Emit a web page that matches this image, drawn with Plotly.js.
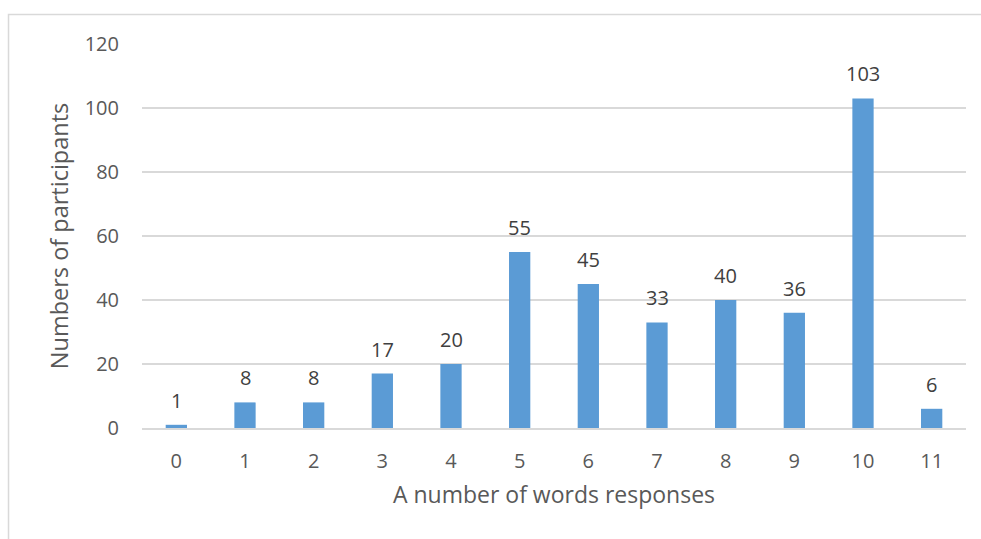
<!DOCTYPE html>
<html>
<head>
<meta charset="utf-8">
<script src="https://cdn.plot.ly/plotly-3.0.1.min.js"></script>
<style>
  html, body { margin: 0; padding: 0; background: #ffffff; }
  #chart { width: 981px; height: 539px; }
</style>
</head>
<body>
<div id="chart"></div>
<script>
// Number of words given in responses, and how many participants gave each count
const wordCounts = ['0', '1', '2', '3', '4', '5', '6', '7', '8', '9', '10', '11'];
const participants = [1, 8, 8, 17, 20, 55, 45, 33, 40, 36, 103, 6];
const yTicks = [0, 20, 40, 60, 80, 100, 120];

const FONT = 'Open Sans, Liberation Sans, sans-serif';
const GRID = '#d9d9d9';

const bars = {
  type: 'bar',
  x: wordCounts,
  y: participants,
  marker: { color: '#5b9bd5', line: { width: 0 } },
  hoverinfo: 'x+y'
};

// value labels sit above each bar
const labels = wordCounts.map((c, i) => ({
  x: c,
  y: participants[i],
  xref: 'x',
  yref: 'y',
  text: String(participants[i]),
  showarrow: false,
  yanchor: 'bottom',
  yshift: 9,
  font: { family: FONT, size: 20, color: '#404040' }
}));

const layout = {
  width: 981,
  height: 539,
  margin: { l: 142, r: 15, t: 44, b: 111 },
  paper_bgcolor: '#ffffff',
  plot_bgcolor: '#ffffff',
  showlegend: false,
  bargap: 0.69,
  font: { family: FONT, color: '#595959', size: 20 },
  xaxis: {
    type: 'category',
    tickvals: wordCounts,
    ticktext: wordCounts,
    showgrid: false,
    showline: true,
    linecolor: GRID,
    linewidth: 1.5,
    ticks: '',
    ticklabelstandoff: 14,
    tickfont: { family: FONT, size: 20, color: '#595959' },
    title: { text: 'A number of words responses', font: { family: FONT, size: 23, color: '#595959' }, standoff: 14 }
  },
  yaxis: {
    range: [0, 120],
    tickvals: yTicks,
    ticktext: yTicks.map(String),
    showgrid: true,
    gridcolor: GRID,
    gridwidth: 1.5,
    zeroline: false,
    showline: false,
    ticks: '',
    ticklabelstandoff: 22,
    tickfont: { family: FONT, size: 20, color: '#595959' },
    title: { text: 'Numbers of participants', font: { family: FONT, size: 23.5, color: '#595959' }, standoff: 9 }
  },
  annotations: labels,
  shapes: [
    {
      type: 'path',
      xref: 'paper',
      yref: 'paper',
      path: 'M -0.162 -0.4 L -0.162 1.0768 L 1.1 1.0768',
      line: { color: GRID, width: 1.5 }
    }
  ]
};

Plotly.newPlot('chart', [bars], layout, { displayModeBar: false, staticPlot: true });
</script>
</body>
</html>
